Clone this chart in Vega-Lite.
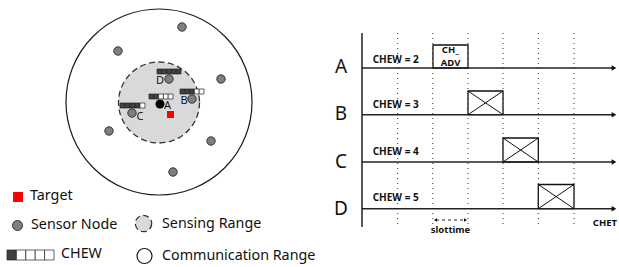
{
  "$schema": "https://vega.github.io/schema/vega-lite/v6.json",
  "width": 619,
  "height": 267,
  "padding": 0,
  "autosize": {"type": "none"},
  "background": "white",
  "config": {"view": {"stroke": null}, "axis": {"disable": true}},
  "datasets": {
    "sym": [
      {"g": "comm", "x": 159, "y": 102, "r": 93},
      {"g": "lgComm", "x": 144.5, "y": 256, "r": 7.5},
      {"g": "sense", "x": 159, "y": 102.5, "r": 40.5},
      {"g": "lgSense", "x": 143.5, "y": 223.5, "r": 8.2},
      {"g": "node", "x": 182, "y": 27, "r": 4.2},
      {"g": "node", "x": 118, "y": 51, "r": 4.2},
      {"g": "node", "x": 221, "y": 79, "r": 4.2},
      {"g": "node", "x": 109, "y": 131, "r": 4.2},
      {"g": "node", "x": 211, "y": 141, "r": 4.2},
      {"g": "node", "x": 173, "y": 172, "r": 4.2},
      {"g": "node", "x": 169, "y": 79, "r": 4.2},
      {"g": "node", "x": 192, "y": 99, "r": 4.2},
      {"g": "node", "x": 132, "y": 113, "r": 4.2},
      {"g": "node", "x": 17.5, "y": 225.5, "r": 5},
      {"g": "nodeA", "x": 160, "y": 104, "r": 4.5},
      {"g": "target", "x": 170.5, "y": 114.5, "r": 3.5},
      {"g": "target", "x": 18, "y": 197, "r": 5}
    ],
    "cells": [
      {"x": 157, "x2": 161.8, "y": 69, "y2": 74, "on": "dark"},
      {"x": 161.8, "x2": 166.6, "y": 69, "y2": 74, "on": "dark"},
      {"x": 166.6, "x2": 171.4, "y": 69, "y2": 74, "on": "dark"},
      {"x": 171.4, "x2": 176.2, "y": 69, "y2": 74, "on": "dark"},
      {"x": 176.2, "x2": 181, "y": 69, "y2": 74, "on": "dark"},
      {"x": 149, "x2": 153.8, "y": 94, "y2": 99, "on": "dark"},
      {"x": 153.8, "x2": 158.6, "y": 94, "y2": 99, "on": "dark"},
      {"x": 158.6, "x2": 163.4, "y": 94, "y2": 99, "on": "light"},
      {"x": 163.4, "x2": 168.2, "y": 94, "y2": 99, "on": "light"},
      {"x": 168.2, "x2": 173, "y": 94, "y2": 99, "on": "light"},
      {"x": 180, "x2": 184.8, "y": 89, "y2": 94, "on": "dark"},
      {"x": 184.8, "x2": 189.6, "y": 89, "y2": 94, "on": "dark"},
      {"x": 189.6, "x2": 194.4, "y": 89, "y2": 94, "on": "dark"},
      {"x": 194.4, "x2": 199.2, "y": 89, "y2": 94, "on": "light"},
      {"x": 199.2, "x2": 204, "y": 89, "y2": 94, "on": "light"},
      {"x": 120, "x2": 125, "y": 103, "y2": 108, "on": "dark"},
      {"x": 125, "x2": 130, "y": 103, "y2": 108, "on": "dark"},
      {"x": 130, "x2": 135, "y": 103, "y2": 108, "on": "dark"},
      {"x": 135, "x2": 140, "y": 103, "y2": 108, "on": "dark"},
      {"x": 140, "x2": 145, "y": 103, "y2": 108, "on": "light"},
      {"x": 7, "x2": 16.4, "y": 250, "y2": 260, "on": "dark"},
      {"x": 16.4, "x2": 25.8, "y": 250, "y2": 260, "on": "light"},
      {"x": 25.8, "x2": 35.2, "y": 250, "y2": 260, "on": "light"},
      {"x": 35.2, "x2": 44.6, "y": 250, "y2": 260, "on": "light"},
      {"x": 44.6, "x2": 54, "y": 250, "y2": 260, "on": "light"}
    ],
    "boxes": [
      {"x": 433, "x2": 468, "y": 45, "y2": 68},
      {"x": 468, "x2": 503, "y": 91, "y2": 114.7},
      {"x": 503, "x2": 538.3, "y": 138, "y2": 162},
      {"x": 538.3, "x2": 574, "y": 184.5, "y2": 208.7}
    ],
    "lines": [
      {"k": "axis", "x": 362, "y": 33, "x2": 362, "y2": 227},
      {"k": "axis", "x": 362, "y": 68, "x2": 613, "y2": 68},
      {"k": "axis", "x": 362, "y": 114.7, "x2": 613, "y2": 114.7},
      {"k": "axis", "x": 362, "y": 162, "x2": 613, "y2": 162},
      {"k": "axis", "x": 362, "y": 208.7, "x2": 613, "y2": 208.7},
      {"k": "cross", "x": 468, "y": 91, "x2": 503, "y2": 114.7},
      {"k": "cross", "x": 468, "y": 114.7, "x2": 503, "y2": 91},
      {"k": "cross", "x": 503, "y": 138, "x2": 538.3, "y2": 162},
      {"k": "cross", "x": 503, "y": 162, "x2": 538.3, "y2": 138},
      {"k": "cross", "x": 538.3, "y": 184.5, "x2": 574, "y2": 208.7},
      {"k": "cross", "x": 538.3, "y": 208.7, "x2": 574, "y2": 184.5},
      {"k": "dot", "x": 397.7, "y": 33, "x2": 397.7, "y2": 227},
      {"k": "dot", "x": 432.8, "y": 33, "x2": 432.8, "y2": 227},
      {"k": "dot", "x": 468, "y": 33, "x2": 468, "y2": 227},
      {"k": "dot", "x": 503, "y": 33, "x2": 503, "y2": 227},
      {"k": "dot", "x": 538.3, "y": 33, "x2": 538.3, "y2": 227},
      {"k": "dot", "x": 574, "y": 33, "x2": 574, "y2": 227},
      {"k": "dash", "x": 436, "y": 220, "x2": 465, "y2": 220}
    ],
    "arrows": [
      {"k": "big", "x": 614, "y": 68, "dir": "right"},
      {"k": "big", "x": 614, "y": 114.7, "dir": "right"},
      {"k": "big", "x": 614, "y": 162, "dir": "right"},
      {"k": "big", "x": 614, "y": 208.7, "dir": "right"},
      {"k": "small", "x": 435.5, "y": 220, "dir": "left"},
      {"k": "small", "x": 465.5, "y": 220, "dir": "right"}
    ],
    "texts": [
      {"k": "node", "x": 160, "y": 81, "t": "D"},
      {"k": "node", "x": 167.5, "y": 105.5, "t": "A"},
      {"k": "node", "x": 184, "y": 101, "t": "B"},
      {"k": "node", "x": 140, "y": 116.5, "t": "C"},
      {"k": "legend", "x": 30, "y": 196, "t": "Target"},
      {"k": "legend", "x": 31, "y": 224.5, "t": "Sensor Node"},
      {"k": "legend", "x": 162, "y": 224, "t": "Sensing Range"},
      {"k": "legend", "x": 61, "y": 254, "t": "CHEW"},
      {"k": "legend", "x": 162, "y": 256, "t": "Communication Range"},
      {"k": "row", "x": 341, "y": 67, "t": "A"},
      {"k": "row", "x": 341, "y": 114, "t": "B"},
      {"k": "row", "x": 341, "y": 162, "t": "C"},
      {"k": "row", "x": 341, "y": 208.5, "t": "D"},
      {"k": "chew", "x": 372.7, "y": 59.5, "t": "CHEW = 2"},
      {"k": "chew", "x": 372.7, "y": 105, "t": "CHEW = 3"},
      {"k": "chew", "x": 372.7, "y": 151.5, "t": "CHEW = 4"},
      {"k": "chew", "x": 372.7, "y": 198, "t": "CHEW = 5"},
      {"k": "mid", "x": 450.5, "y": 49.5, "t": "CH_"},
      {"k": "mid", "x": 450.5, "y": 62.5, "t": "ADV"},
      {"k": "mid", "x": 450.5, "y": 230, "t": "slottime"},
      {"k": "end", "x": 617, "y": 223, "t": "CHET"}
    ]
  },
  "encoding": {
    "x": {"field": "x", "type": "quantitative", "scale": {"domain": [0, 619], "nice": false, "zero": false}, "axis": null},
    "y": {"field": "y", "type": "quantitative", "scale": {"domain": [0, 267], "nice": false, "zero": false, "reverse": true}, "axis": null}
  },
  "layer": [
    {
      "data": {"name": "sym"},
      "transform": [{"filter": "datum.g == 'comm' || datum.g == 'lgComm'"}],
      "mark": {"type": "point", "shape": "circle", "filled": false, "fill": "white", "stroke": "#1a1a1a", "strokeWidth": 1.2, "opacity": 1},
      "encoding": {"size": {"field": "r", "type": "quantitative", "scale": {"type": "pow", "exponent": 2, "domain": [0, 100], "range": [0, 40000]}, "legend": null}}
    },
    {
      "data": {"name": "sym"},
      "transform": [{"filter": "datum.g == 'sense' || datum.g == 'lgSense'"}],
      "mark": {"type": "point", "shape": "circle", "filled": true, "fill": "#d9d9d9", "stroke": "#333333", "strokeWidth": 1.3, "strokeDash": [6, 3.5], "opacity": 1},
      "encoding": {"size": {"field": "r", "type": "quantitative", "legend": null}}
    },
    {
      "data": {"name": "cells"},
      "mark": {"type": "rect", "stroke": "#222222", "strokeWidth": 0.7},
      "encoding": {
        "x2": {"field": "x2"},
        "y2": {"field": "y2"},
        "fill": {"field": "on", "type": "nominal", "scale": {"domain": ["dark", "light"], "range": ["#404040", "#ffffff"]}, "legend": null}
      }
    },
    {
      "data": {"name": "sym"},
      "transform": [{"filter": "datum.g == 'node'"}],
      "mark": {"type": "point", "shape": "circle", "filled": true, "fill": "#7f7f7f", "stroke": "#333333", "strokeWidth": 1, "opacity": 1},
      "encoding": {"size": {"field": "r", "type": "quantitative", "legend": null}}
    },
    {
      "data": {"name": "sym"},
      "transform": [{"filter": "datum.g == 'nodeA'"}],
      "mark": {"type": "point", "shape": "circle", "filled": true, "fill": "#000000", "opacity": 1},
      "encoding": {"size": {"field": "r", "type": "quantitative", "legend": null}}
    },
    {
      "data": {"name": "sym"},
      "transform": [{"filter": "datum.g == 'target'"}],
      "mark": {"type": "point", "shape": "square", "filled": true, "fill": "#ff0000", "opacity": 1},
      "encoding": {"size": {"field": "r", "type": "quantitative", "legend": null}}
    },
    {
      "data": {"name": "lines"},
      "transform": [{"filter": "datum.k == 'dot'"}],
      "mark": {"type": "rule", "stroke": "#333333", "strokeWidth": 1, "strokeDash": [1, 4]},
      "encoding": {"x2": {"field": "x2"}, "y2": {"field": "y2"}}
    },
    {
      "data": {"name": "boxes"},
      "mark": {"type": "rect", "fill": "white", "stroke": "#111111", "strokeWidth": 1.3},
      "encoding": {"x2": {"field": "x2"}, "y2": {"field": "y2"}}
    },
    {
      "data": {"name": "lines"},
      "transform": [{"filter": "datum.k == 'axis'"}],
      "mark": {"type": "rule", "stroke": "#222222", "strokeWidth": 1.5},
      "encoding": {"x2": {"field": "x2"}, "y2": {"field": "y2"}}
    },
    {
      "data": {"name": "lines"},
      "transform": [{"filter": "datum.k == 'cross'"}],
      "mark": {"type": "rule", "stroke": "#111111", "strokeWidth": 1},
      "encoding": {"x2": {"field": "x2"}, "y2": {"field": "y2"}}
    },
    {
      "data": {"name": "lines"},
      "transform": [{"filter": "datum.k == 'dash'"}],
      "mark": {"type": "rule", "stroke": "#222222", "strokeWidth": 1, "strokeDash": [3, 3]},
      "encoding": {"x2": {"field": "x2"}, "y2": {"field": "y2"}}
    },
    {
      "data": {"name": "arrows"},
      "transform": [{"filter": "datum.k == 'big'"}],
      "mark": {"type": "point", "filled": true, "fill": "#111111", "size": 30, "opacity": 1},
      "encoding": {"shape": {"field": "dir", "type": "nominal", "scale": {"domain": ["right", "left"], "range": ["triangle-right", "triangle-left"]}, "legend": null}}
    },
    {
      "data": {"name": "arrows"},
      "transform": [{"filter": "datum.k == 'small'"}],
      "mark": {"type": "point", "filled": true, "fill": "#111111", "size": 12, "opacity": 1},
      "encoding": {"shape": {"field": "dir", "type": "nominal", "legend": null}}
    },
    {
      "data": {"name": "texts"},
      "transform": [{"filter": "datum.k == 'node'"}],
      "mark": {"type": "text", "font": "Noto Sans", "fontSize": 11, "align": "center", "baseline": "middle", "fill": "#111111"},
      "encoding": {"text": {"field": "t"}}
    },
    {
      "data": {"name": "texts"},
      "transform": [{"filter": "datum.k == 'legend'"}],
      "mark": {"type": "text", "font": "Noto Sans", "fontSize": 14.3, "align": "left", "baseline": "middle", "fill": "#111111"},
      "encoding": {"text": {"field": "t"}}
    },
    {
      "data": {"name": "texts"},
      "transform": [{"filter": "datum.k == 'row'"}],
      "mark": {"type": "text", "font": "Noto Sans", "fontSize": 19, "align": "center", "baseline": "middle", "fill": "#111111"},
      "encoding": {"text": {"field": "t"}}
    },
    {
      "data": {"name": "texts"},
      "transform": [{"filter": "datum.k == 'chew'"}],
      "mark": {"type": "text", "font": "Noto Sans", "fontSize": 10, "fontWeight": "bold", "align": "left", "baseline": "middle", "fill": "#111111"},
      "encoding": {"text": {"field": "t"}}
    },
    {
      "data": {"name": "texts"},
      "transform": [{"filter": "datum.k == 'mid'"}],
      "mark": {"type": "text", "font": "Noto Sans", "fontSize": 9.5, "fontWeight": "bold", "align": "center", "baseline": "middle", "fill": "#111111"},
      "encoding": {"text": {"field": "t"}}
    },
    {
      "data": {"name": "texts"},
      "transform": [{"filter": "datum.k == 'end'"}],
      "mark": {"type": "text", "font": "Noto Sans", "fontSize": 9.5, "fontWeight": "bold", "align": "right", "baseline": "middle", "fill": "#111111"},
      "encoding": {"text": {"field": "t"}}
    }
  ]
}
